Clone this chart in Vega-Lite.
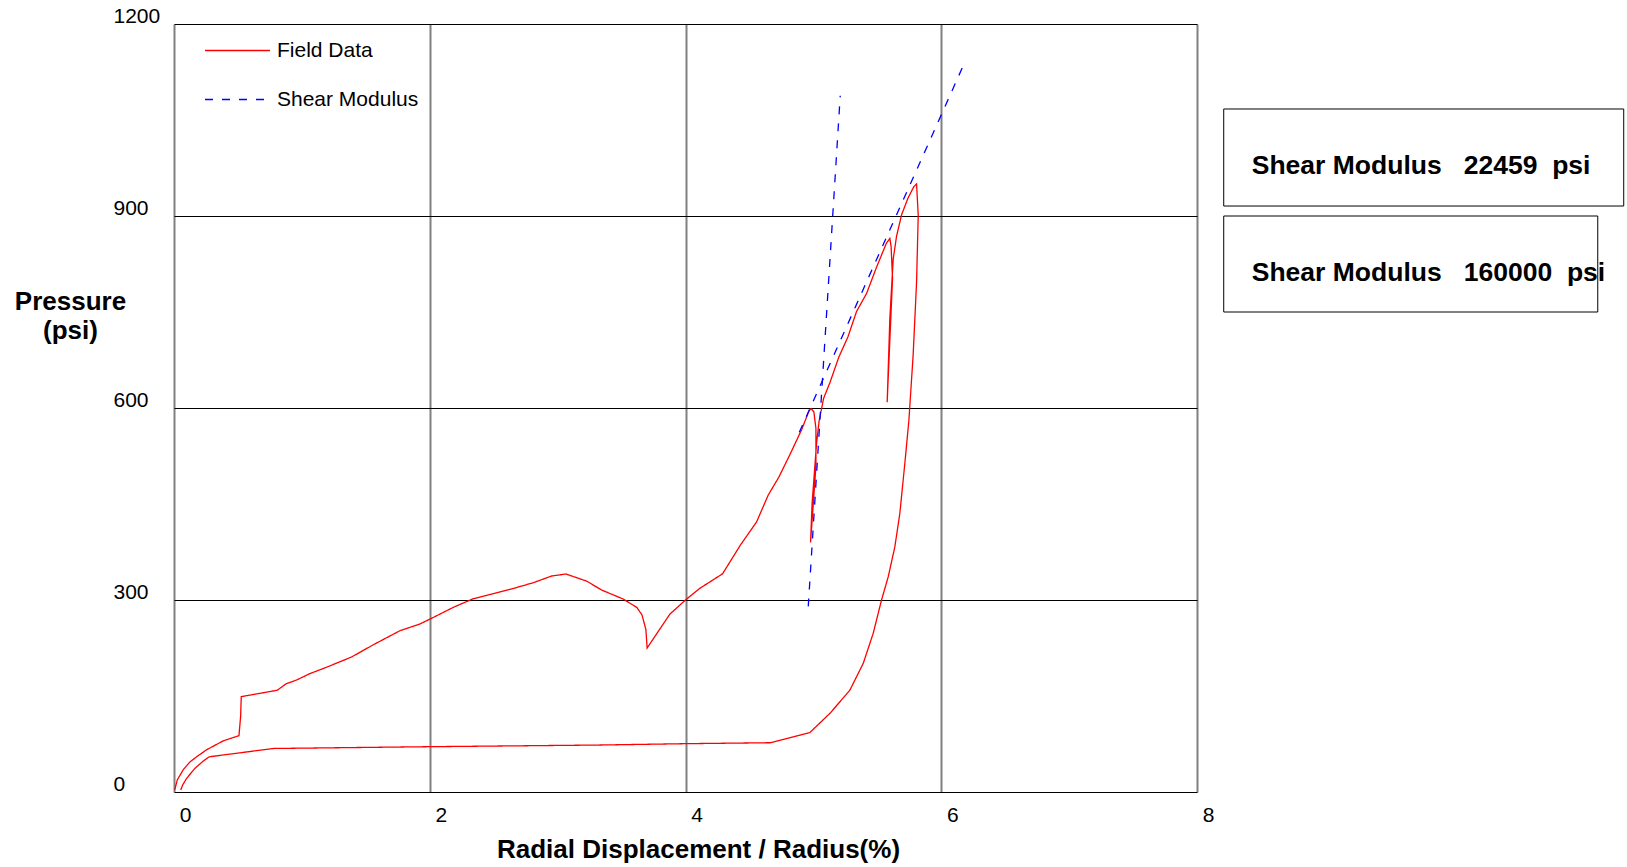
{
  "$schema": "https://vega.github.io/schema/vega-lite/v6.json",
  "width": 1023,
  "height": 768,
  "autosize": {"type": "none"},
  "padding": {"left": 174, "top": 24, "right": 430, "bottom": 75},
  "background": "white",
  "config": {
    "font": "Liberation Sans",
    "view": {"stroke": null},
    "axis": {"labelFont": "Liberation Sans", "titleFont": "Liberation Sans", "labelColor": "black", "titleColor": "black"}
  },
  "datasets": {
    "field": [
      {"x": 0.005, "y": 3}, {"x": 0.026, "y": 19}, {"x": 0.073, "y": 35}, {"x": 0.125, "y": 47},
      {"x": 0.177, "y": 55}, {"x": 0.255, "y": 66}, {"x": 0.386, "y": 80}, {"x": 0.508, "y": 88},
      {"x": 0.521, "y": 118}, {"x": 0.526, "y": 149}, {"x": 0.808, "y": 159}, {"x": 0.876, "y": 169},
      {"x": 0.959, "y": 175}, {"x": 1.063, "y": 185}, {"x": 1.194, "y": 195}, {"x": 1.389, "y": 211},
      {"x": 1.558, "y": 230}, {"x": 1.767, "y": 252}, {"x": 1.923, "y": 262.5}, {"x": 2.0, "y": 270},
      {"x": 2.184, "y": 288.5}, {"x": 2.34, "y": 302}, {"x": 2.653, "y": 318}, {"x": 2.81, "y": 327},
      {"x": 2.953, "y": 337.5}, {"x": 3.065, "y": 340.6}, {"x": 3.227, "y": 329.5}, {"x": 3.344, "y": 315.6},
      {"x": 3.513, "y": 301.5}, {"x": 3.62, "y": 288.3}, {"x": 3.66, "y": 276.6}, {"x": 3.69, "y": 254},
      {"x": 3.70, "y": 225}, {"x": 3.878, "y": 278}, {"x": 4.0, "y": 300}, {"x": 4.11, "y": 318},
      {"x": 4.216, "y": 331.5}, {"x": 4.29, "y": 341}, {"x": 4.43, "y": 386}, {"x": 4.556, "y": 422},
      {"x": 4.647, "y": 464}, {"x": 4.73, "y": 492}, {"x": 4.816, "y": 527}, {"x": 4.908, "y": 566},
      {"x": 4.967, "y": 596}, {"x": 4.983, "y": 599}, {"x": 5.004, "y": 594}, {"x": 5.02, "y": 568},
      {"x": 5.02, "y": 509}, {"x": 4.978, "y": 390}, {"x": 4.99, "y": 451}, {"x": 5.025, "y": 545},
      {"x": 5.045, "y": 580}, {"x": 5.08, "y": 615}, {"x": 5.13, "y": 640}, {"x": 5.2, "y": 680},
      {"x": 5.27, "y": 711}, {"x": 5.338, "y": 751}, {"x": 5.416, "y": 779}, {"x": 5.494, "y": 820},
      {"x": 5.57, "y": 857}, {"x": 5.598, "y": 865}, {"x": 5.608, "y": 852}, {"x": 5.619, "y": 802},
      {"x": 5.577, "y": 609}, {"x": 5.598, "y": 740}, {"x": 5.624, "y": 832}, {"x": 5.65, "y": 868},
      {"x": 5.69, "y": 902}, {"x": 5.74, "y": 928}, {"x": 5.786, "y": 946}, {"x": 5.807, "y": 950},
      {"x": 5.82, "y": 901}, {"x": 5.807, "y": 797}, {"x": 5.78, "y": 682}, {"x": 5.747, "y": 581},
      {"x": 5.715, "y": 513}, {"x": 5.676, "y": 435}, {"x": 5.637, "y": 383}, {"x": 5.585, "y": 336},
      {"x": 5.533, "y": 300}, {"x": 5.468, "y": 248}, {"x": 5.39, "y": 201}, {"x": 5.285, "y": 159},
      {"x": 5.13, "y": 123}, {"x": 4.973, "y": 93}, {"x": 4.665, "y": 77}, {"x": 4.0, "y": 75.5},
      {"x": 3.33, "y": 73.4}, {"x": 2.0, "y": 70.8}, {"x": 0.777, "y": 68}, {"x": 0.276, "y": 55},
      {"x": 0.229, "y": 48.4}, {"x": 0.164, "y": 37}, {"x": 0.099, "y": 21.4}, {"x": 0.068, "y": 11},
      {"x": 0.052, "y": 3}
    ],
    "shear": [
      {"seg": "a", "x": 4.96, "y": 290, "series": "Shear Modulus"},
      {"seg": "a", "x": 5.21, "y": 1088, "series": "Shear Modulus"},
      {"seg": "b", "x": 4.89, "y": 562, "series": "Shear Modulus"},
      {"seg": "b", "x": 6.17, "y": 1134, "series": "Shear Modulus"}
    ],
    "boxes": [
      {"x": 8.209, "x2": 11.337, "y": 1067.2, "y2": 915.6},
      {"x": 8.209, "x2": 11.134, "y": 900, "y2": 750}
    ],
    "notes": [
      {"x": 8.428, "y": 965.6, "text": "Shear Modulus\u00a0\u00a0\u00a022459\u00a0\u00a0psi"},
      {"x": 8.428, "y": 798.5, "text": "Shear Modulus\u00a0\u00a0\u00a0160000\u00a0\u00a0psi"}
    ]
  },
  "layer": [
    {
      "data": {"name": "field"},
      "transform": [{"calculate": "'Field Data'", "as": "series"}],
      "mark": {"type": "line", "strokeWidth": 1.3, "clip": false},
      "encoding": {
        "x": {
          "field": "x", "type": "quantitative",
          "scale": {"domain": [0, 8], "nice": false, "zero": false},
          "axis": {
            "values": [0, 2, 4, 6, 8], "format": "d",
            "grid": true, "gridColor": "#808080", "gridWidth": 2, "gridOpacity": 1,
            "domain": false, "ticks": false, "tickSize": 0, "labelFlush": false,
            "labelFontSize": 21, "labelOffset": 11, "labelPadding": 23, "labelBaseline": "middle",
            "title": "Radial Displacement / Radius(%)",
            "titleFontSize": 26, "titleFontWeight": "bold",
            "titleX": 524, "titleY": 57, "titleAlign": "center", "titleBaseline": "middle"
          }
        },
        "y": {
          "field": "y", "type": "quantitative",
          "scale": {"domain": [0, 1200], "nice": false, "zero": false},
          "axis": {
            "values": [0, 300, 600, 900, 1200], "format": "d",
            "grid": true, "gridColor": "black", "gridWidth": 1, "gridOpacity": 1,
            "domain": false, "ticks": false, "tickSize": 0, "labelFlush": false,
            "labelFontSize": 21, "labelAlign": "left", "labelPadding": 61, "labelBaseline": "alphabetic", "labelOffset": -1.5,
            "title": ["Pressure", "(psi)"],
            "titleFontSize": 26, "titleFontWeight": "bold", "titleAngle": 0,
            "titleX": -104, "titleY": 277.5, "titleAlign": "center", "titleBaseline": "middle", "titleLineHeight": 29
          }
        },
        "order": {"value": null},
        "color": {
          "field": "series", "type": "nominal",
          "scale": {"domain": ["Field Data", "Shear Modulus"], "range": ["#ff0000", "#0000ff"]},
          "legend": {
            "orient": "none", "legendX": 30, "legendY": -7, "title": null,
            "symbolType": "stroke", "symbolSize": 4225, "symbolStrokeWidth": 1.3,
            "labelFontSize": 21, "labelOffset": 6, "rowPadding": 5, "labelColor": "black", "labelFont": "Liberation Sans"
          }
        },
        "strokeDash": {
          "field": "series", "type": "nominal",
          "scale": {"domain": ["Field Data", "Shear Modulus"], "range": [[1, 0], [8, 9]]},
          "legend": {
            "orient": "none", "legendX": 30, "legendY": -7, "title": null,
            "symbolType": "stroke", "symbolSize": 4225, "symbolStrokeWidth": 1.3,
            "labelFontSize": 21, "labelOffset": 6, "rowPadding": 5, "labelColor": "black", "labelFont": "Liberation Sans"
          }
        }
      }
    },
    {
      "data": {"name": "shear"},
      "mark": {"type": "line", "strokeWidth": 1.3, "clip": false},
      "encoding": {
        "x": {"field": "x", "type": "quantitative"},
        "y": {"field": "y", "type": "quantitative"},
        "detail": {"field": "seg"},
        "color": {"field": "series", "type": "nominal"},
        "strokeDash": {"field": "series", "type": "nominal"}
      }
    },
    {
      "data": {"name": "boxes"},
      "mark": {"type": "rect", "fill": "white", "stroke": "black", "strokeWidth": 1, "clip": false},
      "encoding": {
        "x": {"field": "x", "type": "quantitative"},
        "x2": {"field": "x2"},
        "y": {"field": "y", "type": "quantitative"},
        "y2": {"field": "y2"}
      }
    },
    {
      "data": {"name": "notes"},
      "mark": {"type": "text", "align": "left", "baseline": "alphabetic", "fontSize": 26.5, "fontWeight": "bold", "font": "Liberation Sans", "color": "black", "clip": false},
      "encoding": {
        "x": {"field": "x", "type": "quantitative"},
        "y": {"field": "y", "type": "quantitative"},
        "text": {"field": "text"}
      }
    }
  ]
}
